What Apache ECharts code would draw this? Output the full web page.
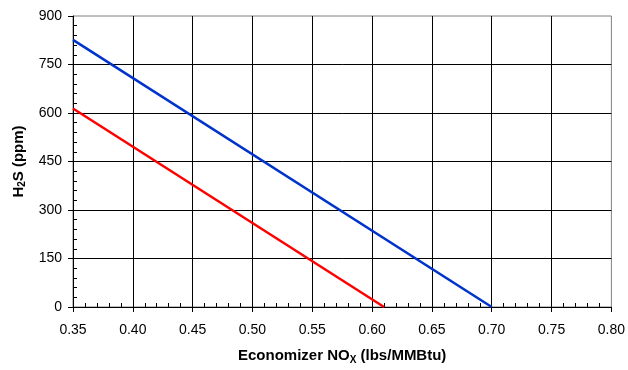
<!DOCTYPE html>
<html><head><meta charset="utf-8">
<script src="https://cdn.jsdelivr.net/npm/echarts@6/dist/echarts.min.js"></script>
<style>html,body{margin:0;padding:0;background:#fff}#c{width:628px;height:370px}</style>
</head><body><div id="c"></div>
<script>
const xTicks = [0.35, 0.40, 0.45, 0.50, 0.55, 0.60, 0.65, 0.70, 0.75, 0.80];
const yTicks = [0, 150, 300, 450, 600, 750, 900];
const blueX = [0.35, 0.70];
const blueY = [826, 0];
const redX = [0.35, 0.61];
const redY = [614, 0];

const font = 'Liberation Sans, Arial, sans-serif';
const chart = echarts.init(document.getElementById('c'));
const pair = (xs, ys) => xs.map((x, i) => [x, ys[i]]);
const xMin = xTicks[0], xMax = xTicks[xTicks.length - 1];
const yMin = yTicks[0], yMax = yTicks[yTicks.length - 1];
const richName = {
  b: { fontFamily: font, fontSize: 15, fontWeight: 'bold', color: '#000', lineHeight: 18 },
  s: { fontFamily: font, fontSize: 10, fontWeight: 'bold', color: '#000', lineHeight: 11, verticalAlign: 'bottom' }
};
chart.setOption({
  animation: false,
  backgroundColor: '#fff',
  grid: { left: 73, right: 16, top: 16, bottom: 61, show: true, borderColor: '#808080', borderWidth: 1, backgroundColor: 'transparent' },
  xAxis: [{
    type: 'value', min: xMin, max: xMax, interval: 0.05,
    axisLine: { lineStyle: { color: '#000', width: 1 } },
    axisTick: { show: true, inside: false, length: 5, lineStyle: { color: '#000' } },
    axisLabel: { formatter: v => v.toFixed(2), fontFamily: font, fontSize: 14, color: '#000', margin: 16 },
    splitLine: { show: true, showMaxLine: false, lineStyle: { color: '#000', width: 1 } },
    name: '{b|Economizer NO}{s|X}{b| (lbs/MMBtu)}',
    nameLocation: 'middle', nameGap: 40,
    nameTextStyle: { rich: richName }
  }, {
    type: 'value', min: xMin, max: xMax, interval: 0.05, position: 'bottom',
    axisLine: { show: false }, axisLabel: { show: false }, splitLine: { show: false },
    axisTick: { show: false, inside: true },
    minorTick: { show: true, splitNumber: 5, length: 4, lineStyle: { color: '#000' } }
  }],
  yAxis: [{
    type: 'value', min: yMin, max: yMax, interval: 150,
    axisLine: { show: true, lineStyle: { color: '#000', width: 1 } },
    axisTick: { show: true, inside: false, length: 5, lineStyle: { color: '#000' } },
    axisLabel: { fontFamily: font, fontSize: 14, color: '#000', margin: 11 },
    splitLine: { show: true, showMaxLine: false, lineStyle: { color: '#000', width: 1 } },
    name: '{b|H}{s|2}{b|S (ppm)}',
    nameLocation: 'middle', nameGap: 44, nameRotate: 90,
    nameTextStyle: { rich: richName }
  }, {
    type: 'value', min: yMin, max: yMax, interval: 150, position: 'left',
    axisLine: { show: false }, axisLabel: { show: false }, splitLine: { show: false },
    axisTick: { show: false, inside: true },
    minorTick: { show: true, splitNumber: 5, length: 4, lineStyle: { color: '#000' } }
  }],
  series: [
    { type: 'line', data: pair(blueX, blueY), symbol: 'none', lineStyle: { color: '#0033CC', width: 2.5 }, z: 5 },
    { type: 'line', data: pair(redX, redY), symbol: 'none', lineStyle: { color: '#FF0000', width: 2.5 }, z: 5 }
  ]
});
</script></body></html>
